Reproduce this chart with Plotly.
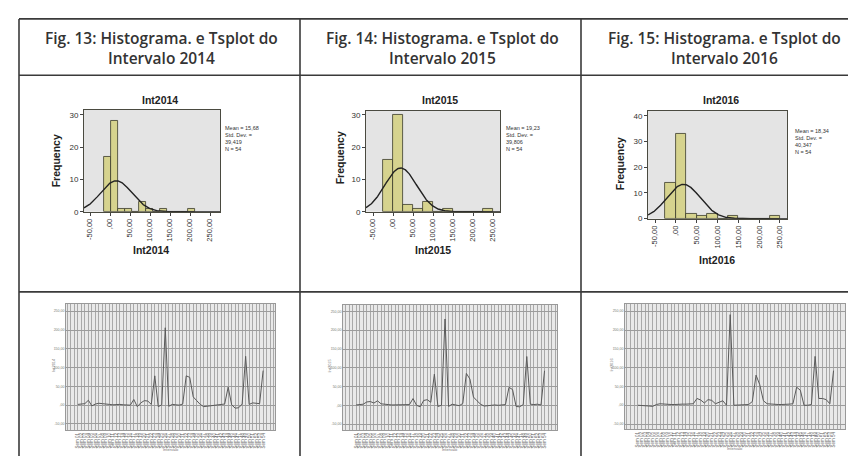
import numpy as np
import plotly.graph_objects as go

W, H = 856, 456

# ---------------- data ----------------
HEADERS = [
    "Fig. 13: Histograma. e Tsplot do<br>Intervalo 2014",
    "Fig. 14: Histograma. e Tsplot do<br>Intervalo 2015",
    "Fig. 15: Histograma. e Tsplot do<br>Intervalo 2016",
]
VAR_NAMES = ["Int2014", "Int2015", "Int2016"]

# histogram bins (centres) and frequencies
BINS_2014 = [-6.25, 11.25, 28.75, 46.25, 63.75, 81.25, 98.75, 116.25, 133.75, 151.25, 168.75, 186.25, 203.75]
FREQ_2014 = [17, 28, 1, 1, 0, 3, 1, 0, 1, 0, 0, 0, 1]
BINS_2015 = [-12.5, 12.5, 37.5, 62.5, 87.5, 112.5, 137.5, 162.5, 187.5, 212.5, 237.5]
FREQ_2015 = [16, 30, 2, 1, 3, 0, 1, 0, 0, 0, 1]
BINS_2016 = [-12.5, 12.5, 37.5, 62.5, 87.5, 112.5, 137.5, 162.5, 187.5, 212.5, 237.5]
FREQ_2016 = [14, 33, 2, 1, 2, 0, 1, 0, 0, 0, 1]
BIN_WIDTHS = [17.5, 25, 25]

MEANS = [15.68, 19.23, 18.34]
STDS = [39.419, 39.806, 40.347]
NS = [54, 54, 54]
STAT_TEXT = [
    "Mean = 15,68<br>Std. Dev. =<br>39,419<br>N = 54",
    "Mean = 19,23<br>Std. Dev. =<br>39,806<br>N = 54",
    "Mean = 18,34<br>Std. Dev. =<br>40,347<br>N = 54",
]

HIST_XTICKS = [-50, 0, 50, 100, 150, 200, 250]
HIST_XLABELS = ["-50,00", ",00", "50,00", "100,00", "150,00", "200,00", "250,00"]

# time series (54 intervals each)
TS_2014 = [2, 3, 4, 13, -2, 3, 5, 4, 2, 2, 1, 2, 2, 1, 1, 0, 15, -4, 6, 12,
           11, 2, 78, -4, 1, 206, -3, 2, 1, 0, 3, 78, 74, 22, 12, 2, -4, -3, 0, 1,
           1, 2, 3, 48, 1, -8, -7, 3, 130, 2, 6, 5, 4, 92]
TS_2015 = [1, 1, 3, 9, 10, 6, 12, 4, 2, 2, 1, 1, 2, 1, 0, 2, 18, 0, -4, 13,
           15, 8, 83, -3, 0, 230, -3, 3, 1, -1, 5, 85, 70, 22, 12, 3, -2, 0, 0, 1,
           0, 1, 2, 48, 42, -3, -4, 2, 130, 3, 2, 3, 1, 92]
TS_2016 = [0, 0, -1, -2, -3, 2, 4, 3, 3, 2, 2, 3, 3, 3, 3, 4, 18, 14, 6, 15,
           13, 4, 8, 12, 0, 241, 0, 0, 0, 1, 2, 10, 80, 55, 12, 4, 3, 2, 2, 2,
           2, 3, 4, 48, 40, 0, 0, 2, 130, 18, 18, 15, 4, 92]
WEEK_LABELS = ["Sem %02d" % i for i in range(1, 55)]
TS_YTICKS = [-50, 0, 50, 100, 150, 200, 250]
TS_YLABELS = ["-50,00", ",00", "50,00", "100,00", "150,00", "200,00", "250,00"]

HIST_BINS = [BINS_2014, BINS_2015, BINS_2016]
HIST_FREQ = [FREQ_2014, FREQ_2015, FREQ_2016]
TS_DATA = [TS_2014, TS_2015, TS_2016]

# ---------------- layout geometry (pixels) ----------------
HIST_BOX = [(76, 212, 103, 206), (358, 492, 104, 206), (640, 779, 104, 213)]
HIST_XRANGE = [(-65, 275), (-67.5, 267.5), (-67, 267)]
HIST_YRANGE = [(0, 31.5), (0, 31.2), (0, 41.9)]
HIST_YTICKS = [[0, 10, 20, 30], [0, 10, 20, 30], [0, 10, 20, 30, 40]]
HIST_TITLE_POS = [(152, 93), (432, 93), (713, 93)]
HIST_FREQ_POS = [(48, 155), (332, 152), (612, 158)]
HIST_XT_POS = [(143, 245), (425, 245), (709, 255)]
HIST_STAT_POS = [(215, 116), (496, 116), (785, 119)]

TS_BOX = [(58, 267, 299, 427), (335, 549, 300, 427), (617, 837, 299, 426)]
TS_XRANGE = [(-3.4, 56.4), (-3.7, 56.5), (-3.5, 56.1)]
TS_YRANGE = [(-67, 270), (-66.6, 268), (-64, 270)]

def px(x):
    return x / W

def py(y):
    return 1 - y / H

fig = go.Figure()
layout = dict(
    width=W, height=H, margin=dict(l=0, r=0, t=0, b=0),
    paper_bgcolor="white", plot_bgcolor="white", showlegend=False,
    bargap=0,
)

annotations = []
shapes = []

FONT_HIST = "Liberation Sans, Arial, sans-serif"

for k in range(3):
    # ---------- histogram ----------
    ax = 2 * k + 1
    xa = "x" if ax == 1 else f"x{ax}"
    ya = "y" if ax == 1 else f"y{ax}"
    xkey = "xaxis" if ax == 1 else f"xaxis{ax}"
    ykey = "yaxis" if ax == 1 else f"yaxis{ax}"
    x0, x1, y0, y1 = HIST_BOX[k]
    fig.add_trace(go.Bar(
        x=HIST_BINS[k], y=HIST_FREQ[k], width=BIN_WIDTHS[k],
        marker=dict(color="#d6d38e", line=dict(color="#3a3a2a", width=0.8)),
        xaxis=xa, yaxis=ya, hoverinfo="skip",
    ))
    xs = np.linspace(HIST_XRANGE[k][0], HIST_XRANGE[k][1], 300)
    curve = NS[k] * BIN_WIDTHS[k] / (STDS[k] * np.sqrt(2 * np.pi)) * np.exp(-0.5 * ((xs - MEANS[k]) / STDS[k]) ** 2)
    fig.add_trace(go.Scatter(
        x=xs, y=curve, mode="lines", line=dict(color="#222222", width=1.4),
        xaxis=xa, yaxis=ya, hoverinfo="skip",
    ))
    layout[xkey] = dict(
        domain=[px(x0), px(x1)], range=list(HIST_XRANGE[k]), anchor=ya,
        tickvals=HIST_XTICKS, ticktext=HIST_XLABELS, tickangle=-90,
        ticks="outside", ticklen=3, tickcolor="#444", tickwidth=0.8,
        tickfont=dict(family=FONT_HIST, size=7.5, color="#333"),
        showgrid=False, zeroline=False, showline=True, linecolor="#4a4a40",
        linewidth=1, mirror=True,
    )
    layout[ykey] = dict(
        domain=[py(y1), py(y0)], range=list(HIST_YRANGE[k]), anchor=xa,
        tickvals=HIST_YTICKS[k], ticks="outside", ticklen=3, tickcolor="#444",
        tickwidth=0.8, tickfont=dict(family=FONT_HIST, size=8, color="#333"),
        showgrid=False, zeroline=False, showline=True, linecolor="#4a4a40",
        linewidth=1, mirror=True,
    )
    shapes.append(dict(type="rect", xref="paper", yref="paper", layer="below",
                       x0=px(x0), x1=px(x1), y0=py(y1), y1=py(y0),
                       fillcolor="#e4e4e4", line=dict(width=0)))
    tx, ty = HIST_TITLE_POS[k]
    annotations.append(dict(x=px(tx), y=py(ty), xref="paper", yref="paper",
                            text=f"<b>{VAR_NAMES[k]}</b>", showarrow=False,
                            font=dict(family=FONT_HIST, size=10.5, color="#222"),
                            xanchor="center", yanchor="middle"))
    fx, fy = HIST_FREQ_POS[k]
    annotations.append(dict(x=px(fx), y=py(fy), xref="paper", yref="paper",
                            text="<b>Frequency</b>", showarrow=False, textangle=-90,
                            font=dict(family=FONT_HIST, size=10.5, color="#222"),
                            xanchor="center", yanchor="middle"))
    gx, gy = HIST_XT_POS[k]
    annotations.append(dict(x=px(gx), y=py(gy), xref="paper", yref="paper",
                            text=f"<b>{VAR_NAMES[k]}</b>", showarrow=False,
                            font=dict(family=FONT_HIST, size=10.5, color="#222"),
                            xanchor="center", yanchor="middle"))
    sx, sy = HIST_STAT_POS[k]
    annotations.append(dict(x=px(sx), y=py(sy), xref="paper", yref="paper",
                            text=STAT_TEXT[k], showarrow=False, align="left",
                            font=dict(family=FONT_HIST, size=5.5, color="#333"),
                            xanchor="left", yanchor="top"))

    # ---------- time series ----------
    ax = 2 * k + 2
    xa = f"x{ax}"
    ya = f"y{ax}"
    xkey = f"xaxis{ax}"
    ykey = f"yaxis{ax}"
    x0, x1, y0, y1 = TS_BOX[k]
    idx = list(range(len(TS_DATA[k])))
    fig.add_trace(go.Scatter(
        x=idx, y=TS_DATA[k], mode="lines", line=dict(color="#5a5a5a", width=1),
        xaxis=xa, yaxis=ya, hoverinfo="skip",
    ))
    grid_vals = list(range(-3, 57))
    grid_text = [WEEK_LABELS[v] if 0 <= v < len(WEEK_LABELS) else "" for v in grid_vals]
    layout[xkey] = dict(
        domain=[px(x0), px(x1)], range=list(TS_XRANGE[k]), anchor=ya,
        tickvals=grid_vals, ticktext=grid_text, tickangle=-90,
        tickfont=dict(family=FONT_HIST, size=4.5, color="#666"),
        showgrid=True, gridcolor="#a9a9a9", gridwidth=0.6,
        zeroline=False, showline=True, linecolor="#999", linewidth=0.8, mirror=True,
    )
    layout[ykey] = dict(
        domain=[py(y1), py(y0)], range=list(TS_YRANGE[k]), anchor=xa,
        tickvals=TS_YTICKS, ticktext=TS_YLABELS,
        tickfont=dict(family=FONT_HIST, size=3.5, color="#777"),
        showgrid=True, gridcolor="#9c9c9c", gridwidth=0.8,
        zeroline=False, showline=True, linecolor="#999", linewidth=0.8, mirror=True,
    )
    shapes.append(dict(type="rect", xref="paper", yref="paper", layer="below",
                       x0=px(x0), x1=px(x1), y0=py(y1), y1=py(y0),
                       fillcolor="#e9e9e9", line=dict(width=0)))
    annotations.append(dict(x=px(x0 - 13), y=py((y0 + y1) / 2 - 2), xref="paper", yref="paper",
                            text=VAR_NAMES[k], showarrow=False, textangle=-90,
                            font=dict(family=FONT_HIST, size=4, color="#777"),
                            xanchor="center", yanchor="middle"))
    annotations.append(dict(x=px((x0 + x1) / 2), y=py(y1 + 19), xref="paper", yref="paper",
                            text="Intervalo", showarrow=False,
                            font=dict(family=FONT_HIST, size=4, color="#777"),
                            xanchor="center", yanchor="middle"))

# ---------- table frame and headers ----------
COL_EDGES = [11, 292, 573]
ROW_EDGES = [11, 68, 287]
HEADER_CENTERS = [153, 434, 716]
LINE_COLOR = "#3a3a3a"
for xe in COL_EDGES:
    shapes.append(dict(type="line", xref="paper", yref="paper",
                       x0=px(xe), x1=px(xe), y0=py(11), y1=0,
                       line=dict(color=LINE_COLOR, width=1.6)))
for ye in ROW_EDGES:
    shapes.append(dict(type="line", xref="paper", yref="paper",
                       x0=px(11), x1=1, y0=py(ye), y1=py(ye),
                       line=dict(color=LINE_COLOR, width=1.6)))
for k in range(3):
    annotations.append(dict(x=px(HEADER_CENTERS[k]), y=py(40), xref="paper", yref="paper",
                            text=HEADERS[k], showarrow=False, align="center",
                            font=dict(family="Open Sans, sans-serif", size=15.5,
                                      color="#333333", weight=600),
                            xanchor="center", yanchor="middle"))

layout["annotations"] = annotations
layout["shapes"] = shapes
fig.update_layout(**layout)
fig.write_html("out.html")
